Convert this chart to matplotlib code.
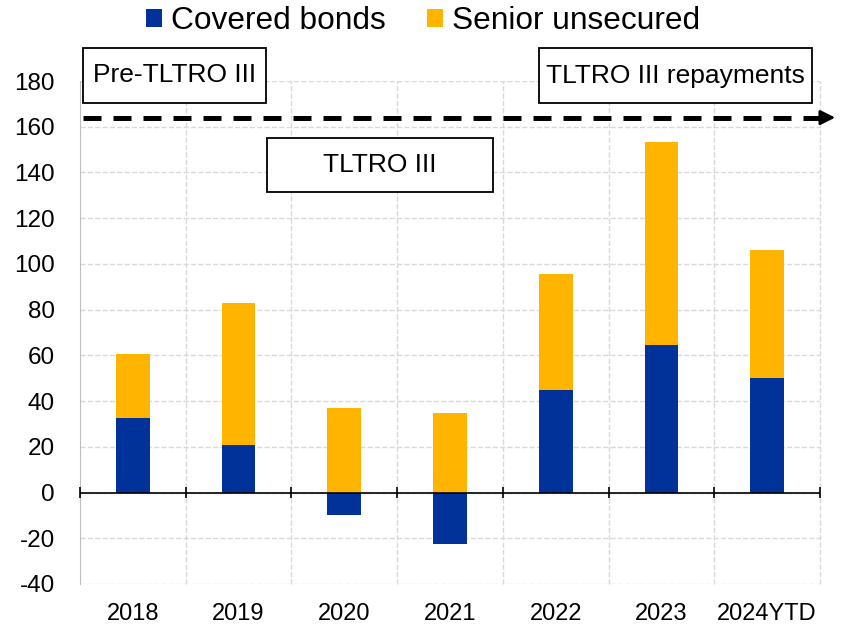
import matplotlib
matplotlib.use("Agg")
import matplotlib.pyplot as plt
from matplotlib.patches import Rectangle
import numpy as np

plt.rcParams['font.family'] = ['Liberation Sans', 'DejaVu Sans']
plt.rcParams['axes.unicode_minus'] = False

years = ["2018", "2019", "2020", "2021", "2022", "2023", "2024YTD"]
covered = [32.5, 21, -10, -22.5, 45, 64.5, 50]
senior = [28, 62, 37, 35, 50.5, 89, 56]

blue = "#003299"
orange = "#FFB400"

W, H = 846, 628
fig = plt.figure(figsize=(W / 100, H / 100), dpi=100)
ax = fig.add_axes([80 / W, 1 - 584 / H, 740 / W, 503 / H])

x = np.arange(len(years))
w = 0.32
cov = np.array(covered)
sen = np.array(senior)
bottom_sen = np.where(cov > 0, cov, 0)
ax.bar(x, cov, w, color=blue, label="Covered bonds", zorder=3)
ax.bar(x, sen, w, bottom=bottom_sen, color=orange, label="Senior unsecured", zorder=3)

ax.set_xlim(-0.5, len(years) - 0.5)
ax.set_ylim(-40, 180)
ax.set_yticks(np.arange(-40, 181, 20))
ax.set_xticks(x)
ax.set_xticklabels(years)
ax.tick_params(axis='x', length=0, pad=14, labelsize=17)
ax.tick_params(axis='y', length=0, pad=18, labelsize=17.5)

for s in ['top', 'right', 'bottom']:
    ax.spines[s].set_visible(False)
ax.spines['left'].set_color('#bfbfbf')

ax.grid(axis='y', color='#d9d9d9', ls='--', lw=1, zorder=0)
for b in np.arange(0.5, len(years), 1.0):
    ax.axvline(b, color='#d9d9d9', ls='--', lw=1, zorder=0, clip_on=False)
ax.axhline(0, color='black', lw=1.2, zorder=4)
ax.vlines(np.arange(-0.5, len(years), 1.0), -2.6, 2.6, color='black', lw=1.2, zorder=4, clip_on=False)

# dashed arrow
ax.plot([-0.47, 6.5], [164, 164], color='black', ls=(0, (3.6, 2.4)), lw=3.6, zorder=5, clip_on=False)
ax.annotate('', xy=(6.67, 164), xytext=(6.45, 164),
            arrowprops=dict(arrowstyle='-|>', color='black', lw=2, mutation_scale=22),
            annotation_clip=False, zorder=5)

# period boxes (figure pixel layout)
boxes = [("Pre-TLTRO III", 83, 48, 266, 103),
         ("TLTRO III", 267, 138, 493, 192),
         ("TLTRO III repayments", 539, 48, 812, 103)]
for label, x0, y0, x1, y1 in boxes:
    fig.add_artist(Rectangle((x0 / W, 1 - y1 / H), (x1 - x0) / W, (y1 - y0) / H,
                             transform=fig.transFigure, fc='white', ec='black', lw=1.3, zorder=6))
    fig.text((x0 + x1) / 2 / W, 1 - (y0 + y1) / 2 / H, label, ha='center', va='center',
             fontsize=19, zorder=7)

fig.legend(loc='center', bbox_to_anchor=(0.5, 1 - 21 / H), ncol=2, frameon=False, fontsize=22.8,
           handlelength=0.5, handleheight=0.5, handletextpad=0.28, columnspacing=1.3,
           borderpad=0, borderaxespad=0)

fig.savefig("out.png", dpi=100)
